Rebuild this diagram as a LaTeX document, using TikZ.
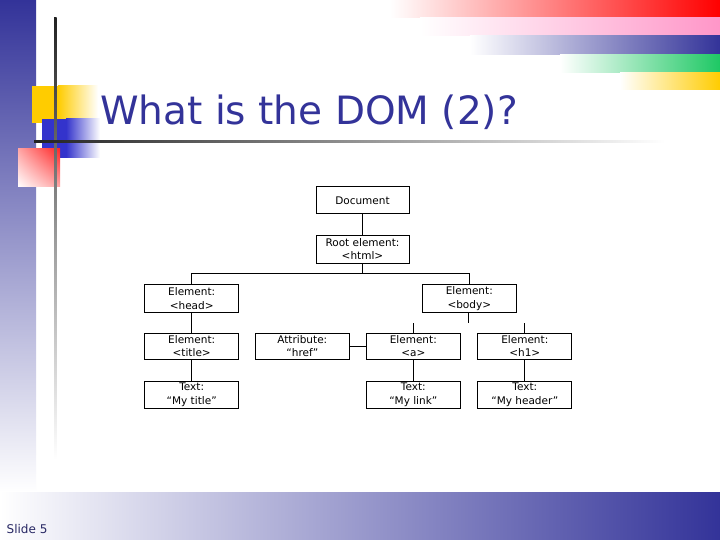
\documentclass[tikz,border=0pt]{standalone}
\usepackage{fontspec}
\setmainfont{DejaVu Sans}
\usetikzlibrary{shadings}
\definecolor{navy}{RGB}{51,51,153}
\definecolor{slideyellow}{RGB}{255,204,0}
\definecolor{slideblue}{RGB}{51,51,204}
\definecolor{slidepink}{RGB}{255,150,200}
\definecolor{slidegreen}{RGB}{30,200,100}
\definecolor{linegrey}{RGB}{34,34,34}
\definecolor{footnavy}{RGB}{40,40,100}
\tikzset{
  box/.style={draw=black, line width=1pt, fill=white, minimum width=94pt, minimum height=27pt, inner sep=0pt, align=center, font=\fontsize{10.5}{13.3}\selectfont},
  conn/.style={draw=black, line width=1pt}
}
\begin{document}
\begin{tikzpicture}[x=1pt,y=-1pt]
\useasboundingbox (0,0) rectangle (720,540);
\fill[white] (0,0) rectangle (720,540);
% left bar
\shade[top color=navy, bottom color=white] (0,0) rectangle (36,492);
% bottom bar
\shade[left color=white, right color=navy] (0,492) rectangle (720,540);
% top-right stripes
\shade[left color=white, right color=red] (390,0) rectangle (720,17.5);
\shade[left color=white, right color=slidepink] (420,17.5) rectangle (720,36);
\shade[left color=white, right color=navy] (470,36) rectangle (720,54.5);
\shade[left color=white, right color=slidegreen] (560,54.5) rectangle (720,73);
\shade[left color=white, right color=slideyellow] (620,73) rectangle (720,90);
% decorative squares
\fill[slideyellow] (32,86) rectangle (58,123);
\shade[left color=slideyellow, right color=white] (58,86) rectangle (98,123);
\fill[slideblue] (42,119) rectangle (66,158);
\shade[left color=slideblue, right color=white] (66,119) rectangle (100,158);
\shade[shading=bilinear interpolation, upper right=red!85!white, upper left=red!35!white, lower right=red!35!white, lower left=white] (18,149) rectangle (60,187);
% lines
\shade[top color=linegrey, bottom color=white, middle color=linegrey!45!white] (54,18) rectangle (56.5,460);
\shade[left color=linegrey, right color=white] (34,141) rectangle (665,143);
% title
\node[anchor=base west, inner sep=0pt, text=navy, font=\fontsize{39}{47}\selectfont] (title) at (100,125) {What is the DOM (2)?};
% footer
\node[anchor=base west, inner sep=0pt, text=footnavy, font=\fontsize{12}{14}\selectfont] (footer) at (6.5,533) {Slide 5};
% diagram
\node[box, minimum width=93pt] (doc) at (362.5,200.5) {Document};
\node[box, minimum width=93pt, minimum height=28pt] (root) at (362.5,249) {Root element:\\<html>};
\node[box, minimum height=27.6pt] (head) at (191.7,298.5) {Element:\\<head>};
\node[box, minimum height=27.6pt] (body) at (469.3,298.5) {Element:\\<body>};
\node[box, minimum height=26pt] (title2) at (191.7,346.3) {Element:\\<title>};
\node[box, minimum height=26pt] (attr) at (302.3,346.3) {Attribute:\\“href”};
\node[box, minimum height=26pt] (a) at (413.3,346.3) {Element:\\<a>};
\node[box, minimum height=26pt] (h1) at (524.8,346.3) {Element:\\<h1>};
\node[box, minimum height=27.3pt] (t1) at (191.7,394.7) {Text:\\“My title”};
\node[box, minimum height=27.3pt] (t2) at (413.3,394.7) {Text:\\“My link”};
\node[box, minimum height=27.3pt] (t3) at (524.8,394.7) {Text:\\“My header”};
\coordinate (j) at (362.5,273.5);
\coordinate (bs) at (468.3,323);
\coordinate (as) at (413.3,323);
\coordinate (hs) at (524.8,323);
\draw[conn] (doc) -- (root);
\draw[conn] (root) -- (j);
\draw[conn] (head.north) |- (j) -| (body.north);
\draw[conn] (body.south -| bs) -- (bs);
\draw[conn] (a.north) -- (as);
\draw[conn] (h1.north) -- (hs);
\draw[conn] (head) -- (title2);
\draw[conn] (title2) -- (t1);
\draw[conn] (attr) -- (a);
\draw[conn] (a) -- (t2);
\draw[conn] (h1) -- (t3);
\end{tikzpicture}
\end{document}
